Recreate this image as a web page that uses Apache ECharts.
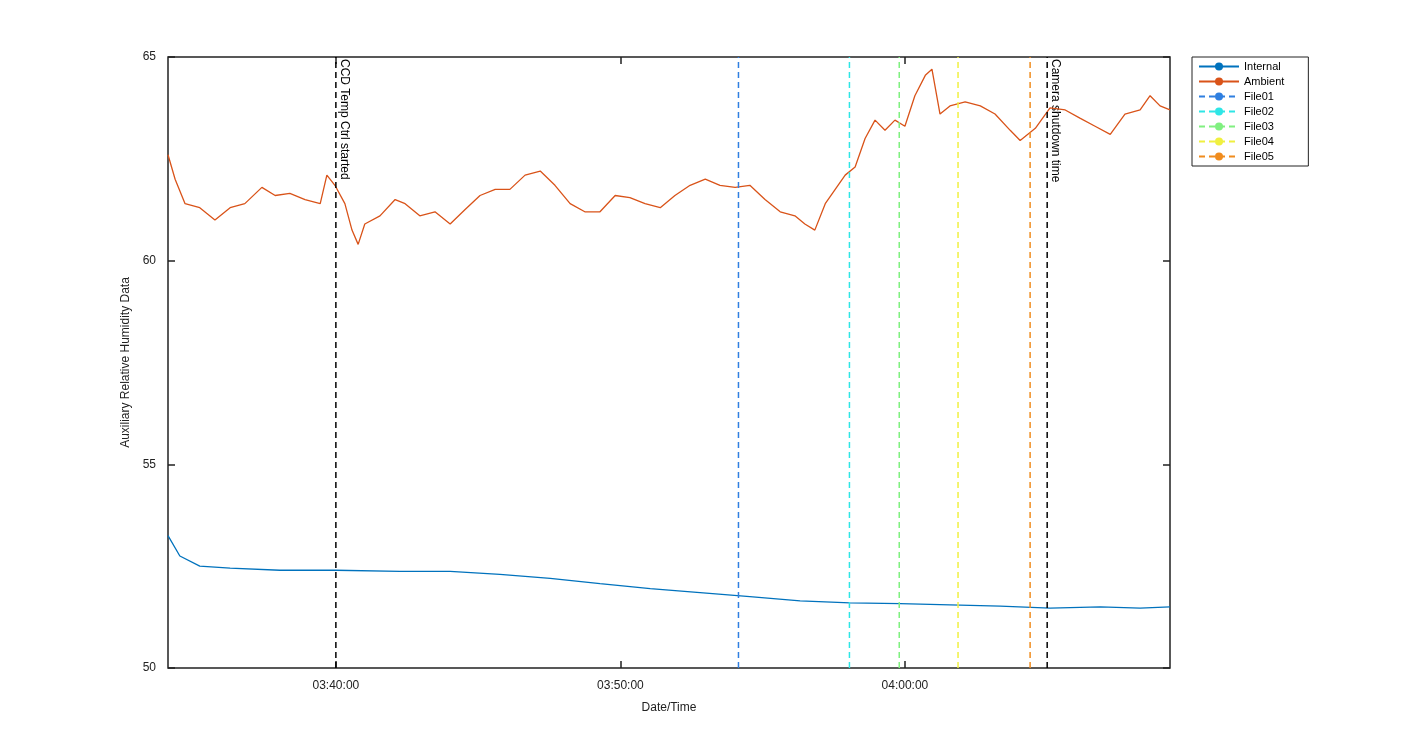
<!DOCTYPE html>
<html>
<head>
<meta charset="utf-8">
<script src="https://cdn.jsdelivr.net/npm/echarts@6/dist/echarts.min.js"></script>
<style>html,body{margin:0;background:#fff}#main{width:1425px;height:750px}</style>
</head>
<body>
<div id="main"></div>
<script>
// times are seconds after 03:34:00
var BASE = 3 * 3600 + 34 * 60;
var ambientT = [6, 21, 42, 73, 105, 137, 168, 204, 232, 263, 295, 327, 341, 358, 379, 394, 407, 421, 453, 485, 506, 537, 569, 601, 632, 664, 696, 727, 759, 791, 822, 854, 885, 917, 949, 980, 1012, 1044, 1075, 1107, 1139, 1170, 1202, 1233, 1265, 1297, 1328, 1349, 1370, 1392, 1413, 1434, 1455, 1476, 1497, 1518, 1539, 1560, 1581, 1603, 1617, 1634, 1655, 1687, 1719, 1750, 1782, 1803, 1835, 1866, 1898, 1929, 1961, 1993, 2024, 2056, 2077, 2098, 2119];
var ambientV = [62.6, 62.0, 61.4, 61.3, 61.0, 61.3, 61.4, 61.8, 61.6, 61.65, 61.5, 61.4, 62.1, 61.85, 61.4, 60.75, 60.4, 60.9, 61.1, 61.5, 61.4, 61.1, 61.2, 60.9, 61.25, 61.6, 61.75, 61.75, 62.1, 62.2, 61.85, 61.4, 61.2, 61.2, 61.6, 61.55, 61.4, 61.3, 61.6, 61.85, 62.0, 61.85, 61.8, 61.85, 61.5, 61.2, 61.1, 60.9, 60.75, 61.4, 61.75, 62.1, 62.3, 63.0, 63.45, 63.2, 63.45, 63.3, 64.05, 64.55, 64.7, 63.6, 63.8, 63.9, 63.8, 63.6, 63.2, 62.95, 63.25, 63.75, 63.7, 63.5, 63.3, 63.1, 63.6, 63.7, 64.05, 63.8, 63.7];
var internalT = [6, 31, 73, 137, 242, 360, 495, 601, 706, 812, 917, 1023, 1128, 1233, 1339, 1444, 1550, 1655, 1761, 1866, 1972, 2056, 2119];
var internalV = [53.25, 52.75, 52.5, 52.45, 52.4, 52.4, 52.37, 52.37, 52.3, 52.2, 52.07, 51.95, 51.85, 51.75, 51.65, 51.6, 51.58, 51.55, 51.52, 51.47, 51.5, 51.47, 51.5];
var fileNames = ['File01', 'File02', 'File03', 'File04', 'File05'];
var fileT = [1209, 1443, 1548, 1672, 1824];
var fileColors = ['#2f7fe0', '#2ee6e6', '#80f080', '#f0f040', '#f08c1e'];
var eventNames = ['CCD Temp Ctrl started', 'Camera shutdown time'];
var eventT = [360, 1860];
var tickT = [360, 960, 1560];

function pairs(t, v) {
    return t.map(function (x, i) { return [BASE + x, v[i]]; });
}

var xMin = BASE + 6, xMax = BASE + 2119;
var tickVals = tickT.map(function (t) { return BASE + t; });

var series = [
    { name: 'Internal', type: 'line', symbol: 'none', data: pairs(internalT, internalV), lineStyle: { color: '#0072bd', width: 1.3 }, itemStyle: { color: '#0072bd' } },
    { name: 'Ambient', type: 'line', symbol: 'none', data: pairs(ambientT, ambientV), lineStyle: { color: '#d95319', width: 1.3 }, itemStyle: { color: '#d95319' } }
];
fileNames.forEach(function (n, i) {
    series.push({ name: n, type: 'line', symbol: 'none', data: [[BASE + fileT[i], 50], [BASE + fileT[i], 65]],
        lineStyle: { color: fileColors[i], width: 1.5, type: [6, 4] }, itemStyle: { color: fileColors[i] } });
});
eventNames.forEach(function (n, i) {
    series.push({ name: n, type: 'line', symbol: 'none', data: [[BASE + eventT[i], 50], [BASE + eventT[i], 65]],
        lineStyle: { color: '#000', width: 1.5, type: [6, 4] }, itemStyle: { color: '#000' } });
});

function fmt(v) {
    var s = Math.round(v), h = Math.floor(s / 3600), m = Math.floor(s % 3600 / 60), ss = s % 60;
    return [h, m, ss].map(function (x) { return (x < 10 ? '0' : '') + x; }).join(':');
}

var myChart = echarts.init(document.getElementById('main'));
var option = {
    animation: false,
    textStyle: { fontFamily: 'Liberation Sans, Arial' },
    grid: { left: 168, right: 255, top: 57, bottom: 82, show: true, borderColor: '#222', borderWidth: 1.5 },
    legend: {
        data: ['Internal', 'Ambient'].concat(fileNames),
        orient: 'vertical', left: 1192, top: 57, width: 110,
        backgroundColor: '#fff', borderColor: '#222', borderWidth: 1,
        padding: [4, 24, 4, 6], itemGap: 4, itemWidth: 40, itemHeight: 10,
        textStyle: { fontSize: 11, color: '#000' }
    },
    xAxis: [{
        type: 'value', min: xMin, max: xMax, name: 'Date/Time', nameLocation: 'middle', nameGap: 34,
        nameTextStyle: { fontSize: 12, color: '#222' },
        splitLine: { show: false }, axisLine: { show: false },
        axisTick: { inside: true, length: 7, customValues: tickVals, lineStyle: { color: '#222', width: 1.5 } },
        axisLabel: { customValues: tickVals, formatter: fmt, fontSize: 12, color: '#222', margin: 12 }
    }, {
        type: 'value', position: 'top', min: xMin, max: xMax, splitLine: { show: false }, axisLine: { show: false },
        axisTick: { inside: true, length: 7, customValues: tickVals, lineStyle: { color: '#222', width: 1.5 } },
        axisLabel: { show: false }
    }],
    yAxis: [{
        type: 'value', min: 50, max: 65, interval: 5, name: 'Auxiliary Relative Humidity Data', nameLocation: 'middle', nameGap: 36,
        nameTextStyle: { fontSize: 12, color: '#222' },
        splitLine: { show: false }, axisLine: { show: false },
        axisTick: { inside: true, length: 7, lineStyle: { color: '#222', width: 1.5 } },
        axisLabel: { fontSize: 12, color: '#222', margin: 12 }
    }, {
        type: 'value', position: 'right', min: 50, max: 65, interval: 5, splitLine: { show: false }, axisLine: { show: false },
        axisTick: { inside: true, length: 7, lineStyle: { color: '#222', width: 1.5 } },
        axisLabel: { show: false }
    }],
    series: series
};
myChart.setOption(option);

var texts = eventNames.map(function (n, i) {
    var p = myChart.convertToPixel({ xAxisIndex: 0, yAxisIndex: 0 }, [BASE + eventT[i], 65]);
    return { type: 'text', x: p[0] + 2, y: p[1] + 2, rotation: -Math.PI / 2,
        style: { text: n, fill: '#000', font: '12px Liberation Sans, Arial', align: 'left', verticalAlign: 'bottom' } };
});
myChart.setOption({ graphic: texts });
</script>
</body>
</html>
